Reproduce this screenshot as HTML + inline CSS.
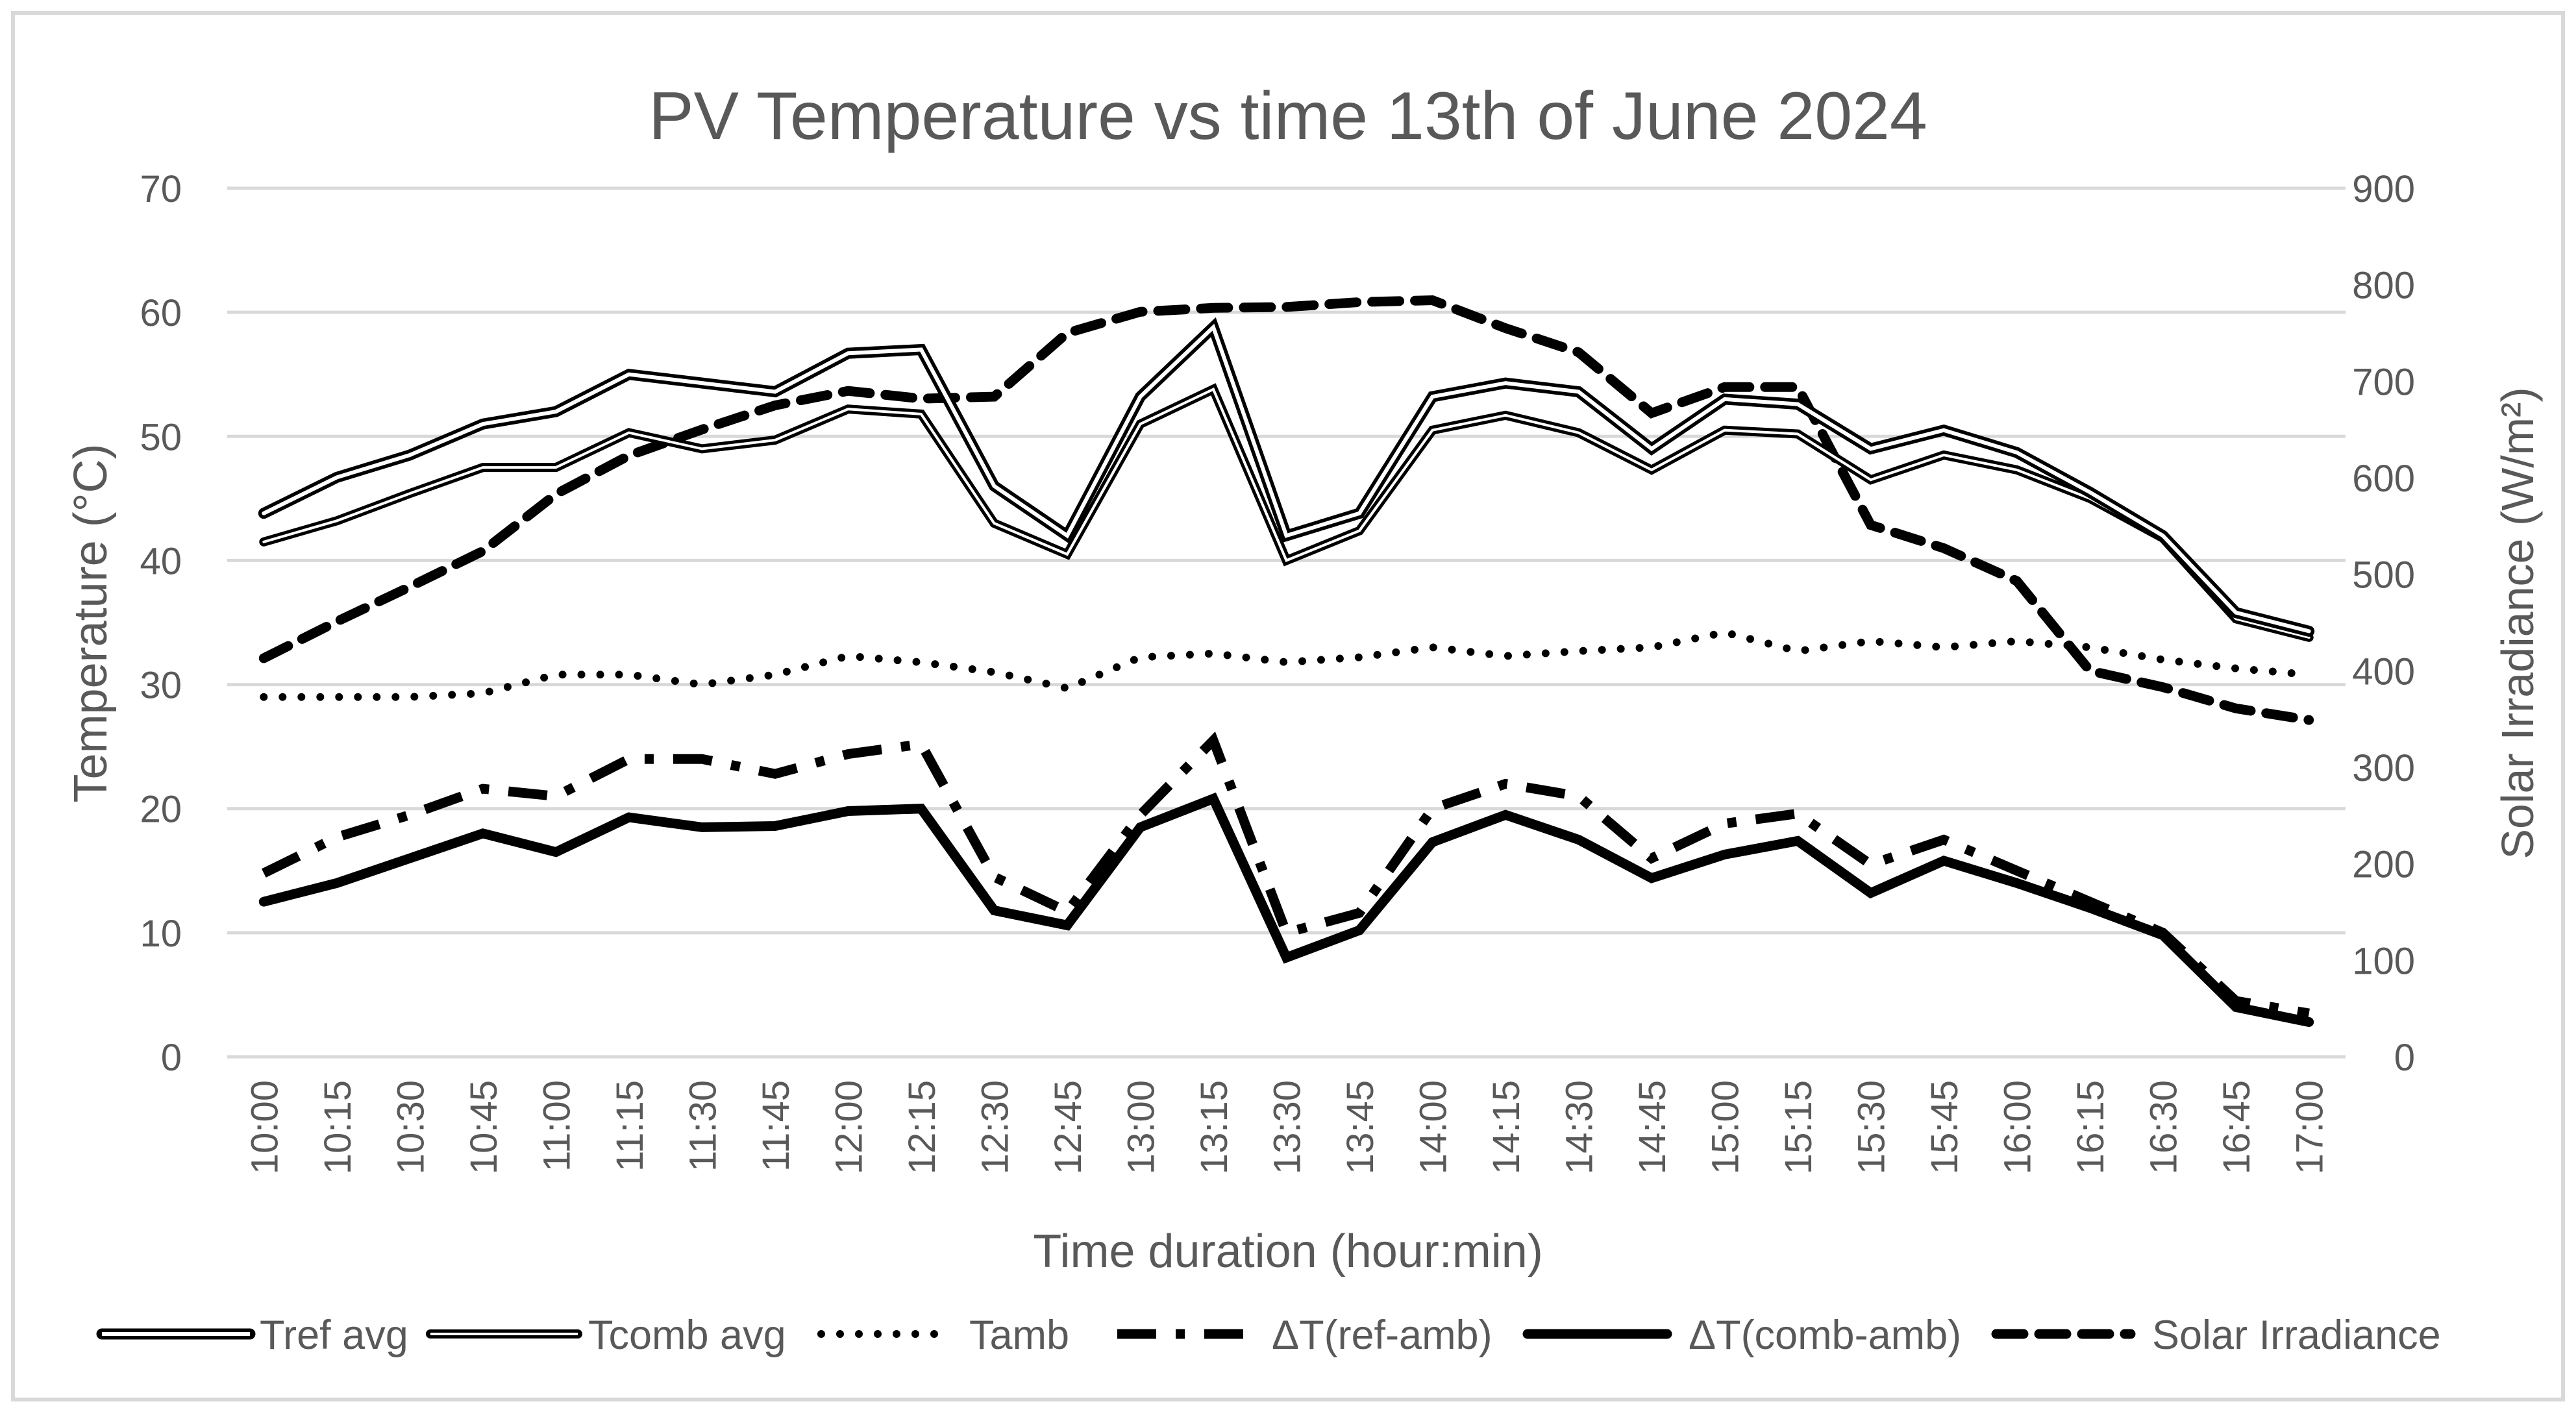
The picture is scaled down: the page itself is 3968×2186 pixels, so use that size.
<!DOCTYPE html>
<html><head><meta charset="utf-8"><style>
html,body{margin:0;padding:0;background:#fff}
svg{display:block}
text{font-family:"Liberation Sans",sans-serif;fill:#595959}
</style></head><body>
<svg id="chart" width="3968" height="2186" viewBox="0 0 3968 2186" xmlns="http://www.w3.org/2000/svg">
<rect x="20" y="20" width="3928" height="2136" fill="#fff" stroke="#d9d9d9" stroke-width="6"/>
<text x="1984" y="214" font-size="104" text-anchor="middle">PV Temperature vs time 13th of June 2024</text>
<g id="grid"></g><g id="ticks"></g><g id="series"></g>
<text transform="translate(164,960) rotate(-90)" font-size="72" text-anchor="middle">Temperature (°C)</text>
<text transform="translate(3902,960) rotate(-90)" font-size="70" text-anchor="middle">Solar Irradiance (W/m²)</text>
<text x="1984" y="1952" font-size="72" text-anchor="middle">Time duration (hour:min)</text>
<g id="legend"></g>
</svg>
<script>
const categories=["10:00","10:15","10:30","10:45","11:00","11:15","11:30","11:45","12:00","12:15","12:30","12:45","13:00","13:15","13:30","13:45","14:00","14:15","14:30","14:45","15:00","15:15","15:30","15:45","16:00","16:15","16:30","16:45","17:00"];
const trefAvg=[43.8,46.7,48.5,51,52,55,54.3,53.6,56.7,57,46,42,53.2,58.8,42,43.8,53.2,54.3,53.6,49,53,52.6,49,50.5,48.7,45.5,42,35.8,34.3];
const tcombAvg=[41.5,43.2,45.4,47.5,47.5,50.3,49,49.7,52.2,51.8,43,40.5,51,53.8,40,42.4,50.5,51.7,50.3,47.3,50.5,50.2,46.5,48.5,47.3,45,41.8,35.3,33.8];
const tamb=[29,29,29,29.3,30.8,30.8,30,30.8,32.3,31.8,31,29.7,32.2,32.5,31.8,32.2,33,32.3,32.7,33,34.2,32.7,33.5,33,33.5,33,32,31.3,30.8];
const dtRef=[14.8,17.7,19.5,21.6,21,24,24,22.8,24.4,25.2,14.5,11.7,19.5,25.5,10,11.6,20,22,21,16,18.8,19.6,15.5,17.5,15,12.5,10,4.5,3.5];
const dtComb=[12.5,14,16,18,16.5,19.3,18.5,18.6,19.8,20,11.8,10.6,18.5,20.8,8,10.2,17.3,19.5,17.5,14.4,16.3,17.4,13.2,15.8,14,12,9.8,4,2.8];
const solar=[413,451,487,524,583,623,650,675,690,682,684,750,772,776,777,782,784,755,730,667,694,694,551,527,493,400,383,361,349];
const leftTicks=[0,10,20,30,40,50,60,70];
const rightTicks=[0,100,200,300,400,500,600,700,800,900];

const NS="http://www.w3.org/2000/svg";
const X0=350,X1=3613,Y0=1628,Y1=290;
const band=(X1-X0)/categories.length;
const x=i=>X0+band*(i+0.5);
const yL=v=>Y0-(v/70)*(Y0-Y1);
const yR=v=>Y0-(v/900)*(Y0-Y1);
function mk(tag,attrs,parent){const e=document.createElementNS(NS,tag);for(const k in attrs)e.setAttribute(k,attrs[k]);parent.appendChild(e);return e;}
const grid=document.getElementById('grid'),ticks=document.getElementById('ticks'),series=document.getElementById('series'),legend=document.getElementById('legend');
leftTicks.forEach(v=>{
  const l=mk('line',{x1:X0,x2:X1,y1:yL(v),y2:yL(v),stroke:'#d9d9d9','stroke-width':5},grid);
  
  
  const t=mk('text',{x:280,y:yL(v)+21,'font-size':58,'text-anchor':'end'},ticks);t.textContent=v;
  
  
});
rightTicks.forEach(v=>{
  const t=mk('text',{x:3720,y:yR(v)+21,'font-size':58,'text-anchor':'end'},ticks);t.textContent=v;
  
  
});
categories.forEach((c,i)=>{
  const t=mk('text',{transform:`translate(${x(i)+21},1664) rotate(-90)`,'font-size':58,'text-anchor':'end'},ticks);t.textContent=c;
  
  
});
function pts(arr,yf){return arr.map((v,i)=>x(i).toFixed(1)+','+yf(v).toFixed(1)).join(' ');}
const styles={
  tref:{w:17,inner:6,dash:null},
  tcomb:{w:14,inner:4,dash:null},
  tamb:{w:12,dash:'0 29',cap:'round'},
  dtref:{w:15,dash:'60 30 14 30',cap:'butt'},
  dtcomb:{w:15,dash:null,cap:'round'},
  solar:{w:15,dash:'42 24',cap:'round'}
};
function drawLine(arr,yf,st,name,parent){
  const g=mk('g',{},parent);
  
  
  const a={points:pts(arr,yf),fill:'none',stroke:'#000','stroke-width':st.w,'stroke-linejoin':'miter','stroke-linecap':st.cap||'round'};
  if(st.dash)a['stroke-dasharray']=st.dash;
  mk('polyline',a,g);
  if(st.inner)mk('polyline',{points:pts(arr,yf),fill:'none',stroke:'#fff','stroke-width':st.inner,'stroke-linejoin':'miter','stroke-linecap':'round'},g);
}
drawLine(solar,yR,styles.solar,'solar-irradiance-line',series);
drawLine(tamb,yL,styles.tamb,'tamb-line',series);
drawLine(dtRef,yL,styles.dtref,'dt-ref-amb-line',series);
drawLine(dtComb,yL,styles.dtcomb,'dt-comb-amb-line',series);
drawLine(tcombAvg,yL,styles.tcomb,'tcomb-avg-line',series);
drawLine(trefAvg,yL,styles.tref,'tref-avg-line',series);

const legendItems=[["Tref avg",'tref',157,385,400],["Tcomb avg",'tcomb',663,890,906],["Tamb",'tamb',1265,1463,1493],["ΔT(ref-amb)",'dtref',1721,1928,1959],["ΔT(comb-amb)",'dtcomb',2353,2568,2601],["Solar Irradiance",'solar',3075,3282,3315]];
legendItems.forEach(([label,key,a,b,tx])=>{
  const g=mk('g',{},legend);
  
  
  const st=styles[key];const ly=2055;
  const at={x1:a,x2:b,y1:ly,y2:ly,stroke:'#000','stroke-width':st.w,'stroke-linecap':st.cap||'round'};
  if(st.dash)at['stroke-dasharray']=st.dash;
  mk('line',at,g);
  if(st.inner)mk('line',{x1:a,x2:b,y1:ly,y2:ly,stroke:'#fff','stroke-width':st.inner},g);
  const t=mk('text',{x:tx,y:ly+23,'font-size':63},g);t.textContent=label;
});
</script>
</body></html>
